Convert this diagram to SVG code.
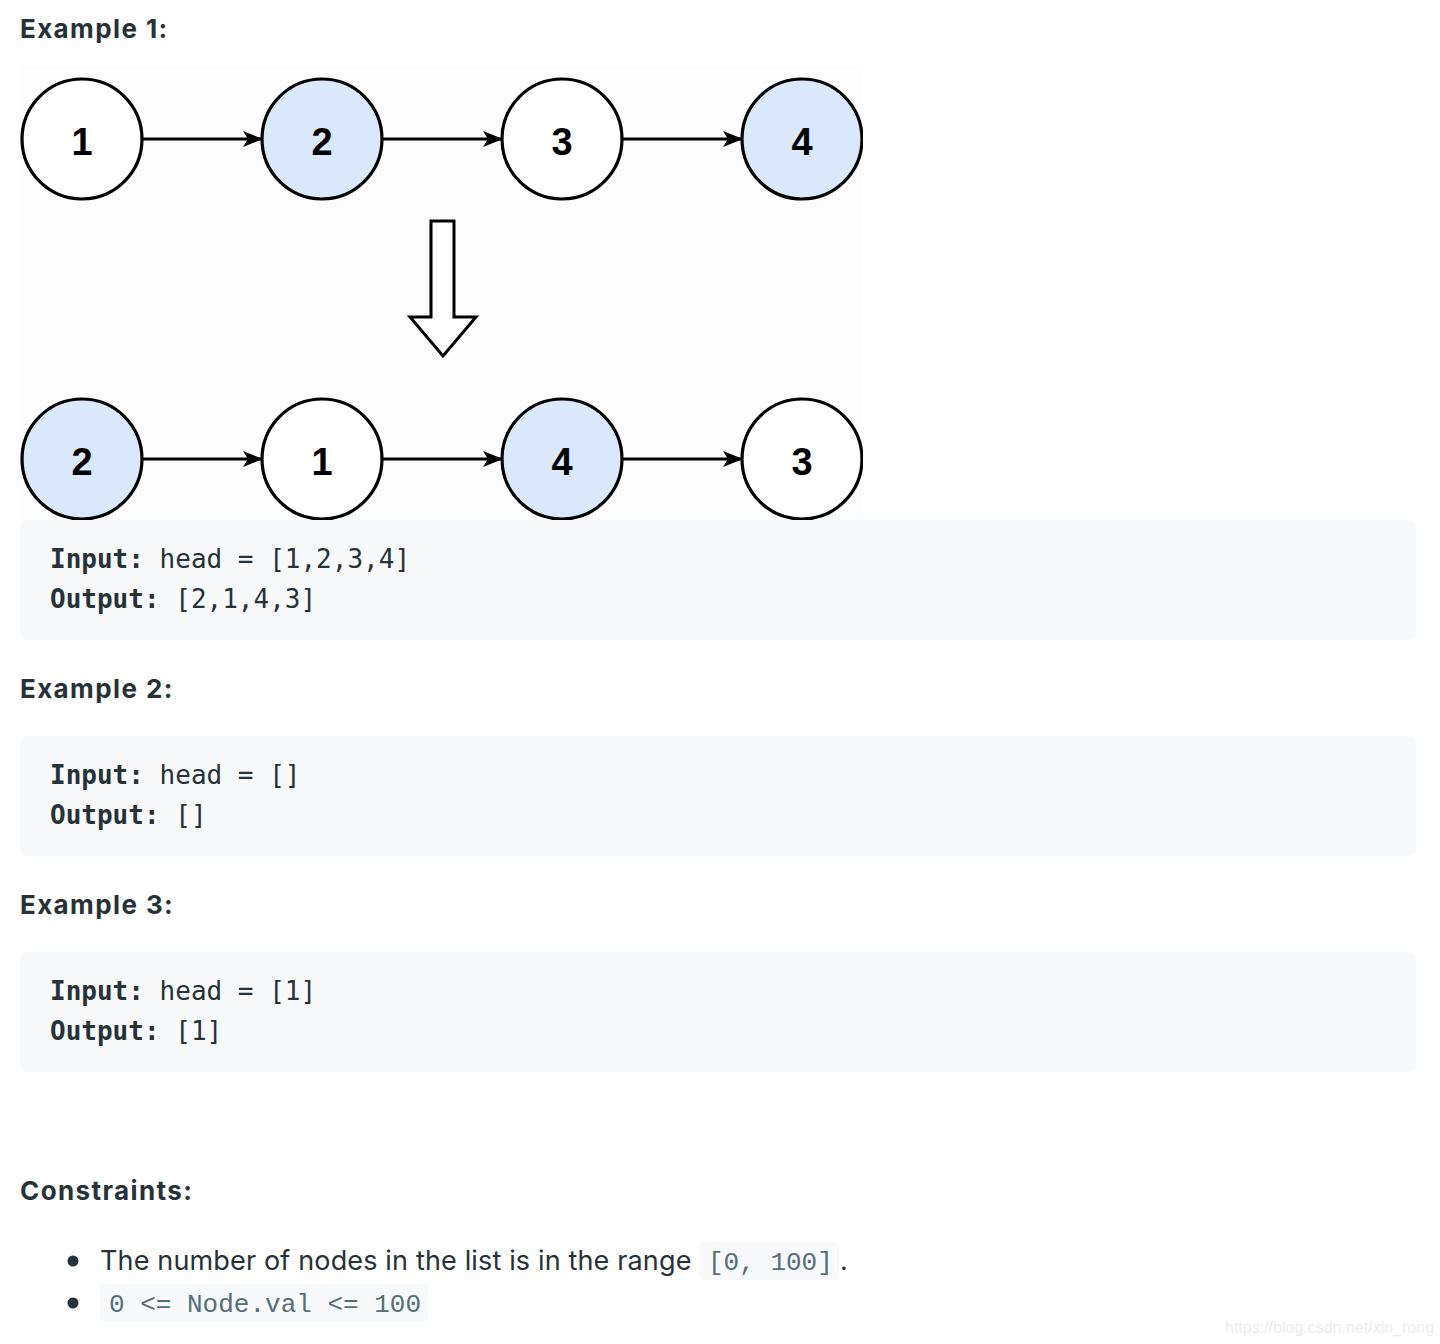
<svg xmlns="http://www.w3.org/2000/svg" width="1440" height="1344" viewBox="0 0 1440 1344">
<defs>
<marker id="ah" viewBox="0 0 20 16" refX="19" refY="8" markerWidth="20" markerHeight="16" markerUnits="userSpaceOnUse" orient="auto">
<path d="M0,0 L20,8 L0,16 L5,8 Z" fill="#000"/>
</marker>
</defs>
<style>
.h{font-family:Inter,"Liberation Sans",sans-serif;font-weight:700;font-size:26px;letter-spacing:1.4px;fill:#263238}
.node{stroke:#000;stroke-width:3.2}
.w{fill:#fff}
.b{fill:#dae8fc}
.d{font-family:"Liberation Sans",Arial,sans-serif;font-weight:700;font-size:38px;fill:#000;text-anchor:middle}
.edge{stroke:#000;stroke-width:3;fill:none;marker-end:url(#ah)}
.blk{fill:#f7f9fa}
.m{font-family:"DejaVu Sans Mono",monospace;font-size:26px;fill:#263238}
.mb{font-weight:700}
.t{font-family:Inter,"Liberation Sans",sans-serif;font-size:27px;letter-spacing:0.15px;fill:#263238}
.ic{font-family:"Liberation Mono","Courier New",monospace;font-size:26px;fill:#546e7a}
.icb{fill:#f7f9fa}
.wm{font-family:"Liberation Sans",Arial,sans-serif;font-size:16px;fill:#ececec}
</style>
<rect width="1440" height="1344" fill="#fff"/>
<rect x="20" y="66" width="842" height="454" fill="#fdfdfd"/>
<text class="h" x="20" y="38">Example 1:</text>
<g id="connectors">
<line class="edge" x1="143" y1="139" x2="262" y2="139"/>
<line class="edge" x1="383" y1="139" x2="502" y2="139"/>
<line class="edge" x1="623" y1="139" x2="742" y2="139"/>
<line class="edge" x1="143" y1="459" x2="262" y2="459"/>
<line class="edge" x1="383" y1="459" x2="502" y2="459"/>
<line class="edge" x1="623" y1="459" x2="742" y2="459"/>
<path id="down-arrow" d="M431,221 L454,221 L454,317 L476,317 L443,356 L410,317 L431,317 Z" fill="#fff" stroke="#000" stroke-width="3" stroke-linejoin="miter"/>
</g>
<g id="n1a"><circle class="node w" cx="82" cy="139" r="60"/><text class="d" x="82" y="155">1</text></g>
<g id="n2a"><circle class="node b" cx="322" cy="139" r="60"/><text class="d" x="322" y="155">2</text></g>
<g id="n3a"><circle class="node w" cx="562" cy="139" r="60"/><text class="d" x="562" y="155">3</text></g>
<g id="n4a"><circle class="node b" cx="802" cy="139" r="60"/><text class="d" x="802" y="155">4</text></g>
<g id="n2b"><circle class="node b" cx="82" cy="459" r="60"/><text class="d" x="82" y="475">2</text></g>
<g id="n1b"><circle class="node w" cx="322" cy="459" r="60"/><text class="d" x="322" y="475">1</text></g>
<g id="n4b"><circle class="node b" cx="562" cy="459" r="60"/><text class="d" x="562" y="475">4</text></g>
<g id="n3b"><circle class="node w" cx="802" cy="459" r="60"/><text class="d" x="802" y="475">3</text></g>
<rect x="863" y="60" width="20" height="470" fill="#fff"/>
<g id="ex1-code">
<rect class="blk" x="20" y="520" width="1396" height="120" rx="7"/>
<text class="m" x="50" y="568"><tspan class="mb">Input:</tspan> head = [1,2,3,4]</text>
<text class="m" x="50" y="608"><tspan class="mb">Output:</tspan> [2,1,4,3]</text>
</g>
<text class="h" x="20" y="698">Example 2:</text>
<g id="ex2-code">
<rect class="blk" x="20" y="736" width="1396" height="120" rx="7"/>
<text class="m" x="50" y="784"><tspan class="mb">Input:</tspan> head = []</text>
<text class="m" x="50" y="824"><tspan class="mb">Output:</tspan> []</text>
</g>
<text class="h" x="20" y="914">Example 3:</text>
<g id="ex3-code">
<rect class="blk" x="20" y="952" width="1396" height="120" rx="7"/>
<text class="m" x="50" y="1000"><tspan class="mb">Input:</tspan> head = [1]</text>
<text class="m" x="50" y="1040"><tspan class="mb">Output:</tspan> [1]</text>
</g>
<text class="h" x="20" y="1200">Constraints:</text>
<circle cx="73" cy="1261" r="5.5" fill="#263238"/>
<text class="t" x="100" y="1270">The number of nodes in the list is in the range</text>
<rect class="icb" x="699" y="1242" width="140" height="38" rx="5"/>
<text class="ic" x="708" y="1270">[0, 100]</text>
<text class="t" x="840" y="1270">.</text>
<circle cx="73" cy="1303" r="5.5" fill="#263238"/>
<rect class="icb" x="100" y="1284" width="328" height="38" rx="5"/>
<text class="ic" x="109" y="1312">0 &lt;= Node.val &lt;= 100</text>
<text class="wm" x="1225" y="1333">https://blog.csdn.net/xin_rong</text>
</svg>
